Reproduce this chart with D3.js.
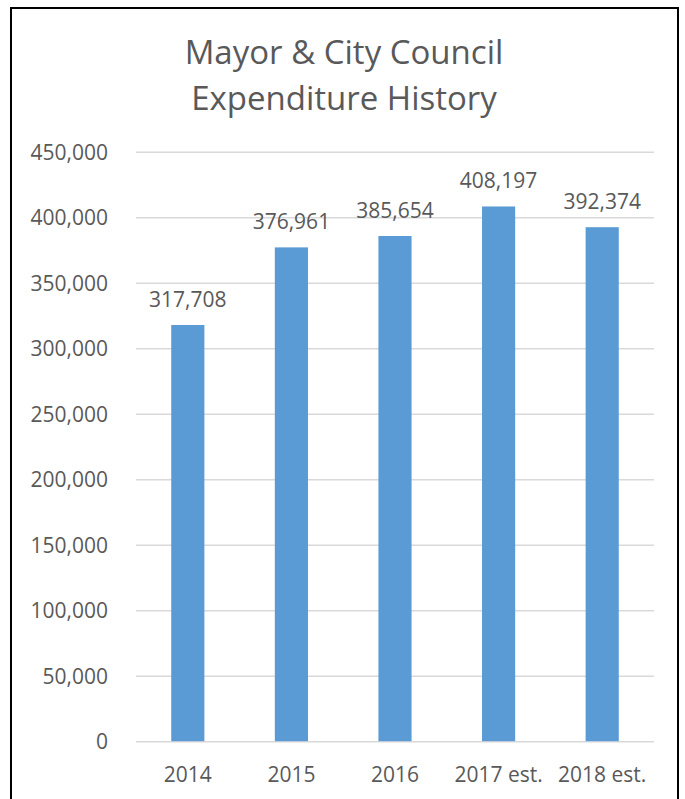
<!DOCTYPE html>
<html>
<head>
<meta charset="utf-8">
<script src="https://cdn.jsdelivr.net/npm/d3@7/dist/d3.min.js"></script>
<style>
  html, body { margin: 0; padding: 0; background: #fff; }
  svg { display: block; }
  text { font-family: "Open Sans", sans-serif; fill: #595959; }
</style>
</head>
<body>
<svg id="chart" width="685" height="799"></svg>
<script>
const categories = ["2014", "2015", "2016", "2017 est.", "2018 est."];
const values = [317708, 376961, 385654, 408197, 392374];
const yTicks = [0, 50000, 100000, 150000, 200000, 250000, 300000, 350000, 400000, 450000];
const titleLines = ["Mayor & City Council", "Expenditure History"];

const svg = d3.select("#chart");
const W = 685, H = 799;

// frame
svg.append("rect")
  .attr("x", 11).attr("y", 8)
  .attr("width", 667).attr("height", H + 10)
  .attr("fill", "#fff").attr("stroke", "#000").attr("stroke-width", 2);

const x0 = 136, x1 = 654, yTop = 151.7, yBot = 741.2;
const x = d3.scaleBand().domain(categories).range([x0, x1]).paddingInner(0.68).paddingOuter(0.34);
const y = d3.scaleLinear().domain([0, 450000]).range([yBot, yTop]);
const fmt = d3.format(",");

// title
svg.append("g").selectAll("text").data(titleLines).join("text")
  .attr("x", 344).attr("y", (d, i) => 64 + i * 46)
  .attr("text-anchor", "middle")
  .style("font-size", "33px")
  .text(d => d);

// y axis (gridlines + labels)
const yAxis = d3.axisLeft(y).tickValues(yTicks).tickFormat(d => d === 0 ? "0" : fmt(d))
  .tickSize(-(x1 - x0)).tickPadding(28);
const gy = svg.append("g").attr("transform", `translate(${x0},0)`).call(yAxis);
gy.select(".domain").remove();
gy.selectAll(".tick line").attr("stroke", "#D9D9D9").attr("stroke-width", 1.5);
gy.selectAll(".tick text").style("font-size", "21px").attr("fill", "#595959").attr("dy", "0.35em");

// bars
svg.append("g").selectAll("rect").data(values).join("rect")
  .attr("x", (d, i) => x(categories[i]))
  .attr("width", x.bandwidth())
  .attr("y", d => y(d))
  .attr("height", d => y(0) - y(d))
  .attr("fill", "#5B9BD5");

// data labels
svg.append("g").selectAll("text").data(values).join("text")
  .attr("x", (d, i) => x(categories[i]) + x.bandwidth() / 2)
  .attr("y", d => y(d) - 18)
  .attr("text-anchor", "middle")
  .style("font-size", "21px")
  .text(d => fmt(d));

// x axis
const xAxis = d3.axisBottom(x).tickSize(0).tickPadding(26);
const gx = svg.append("g").attr("transform", `translate(0,${yBot})`).call(xAxis);
gx.select(".domain").remove();
gx.selectAll(".tick text").style("font-size", "21px").attr("fill", "#595959");
</script>
</body>
</html>
